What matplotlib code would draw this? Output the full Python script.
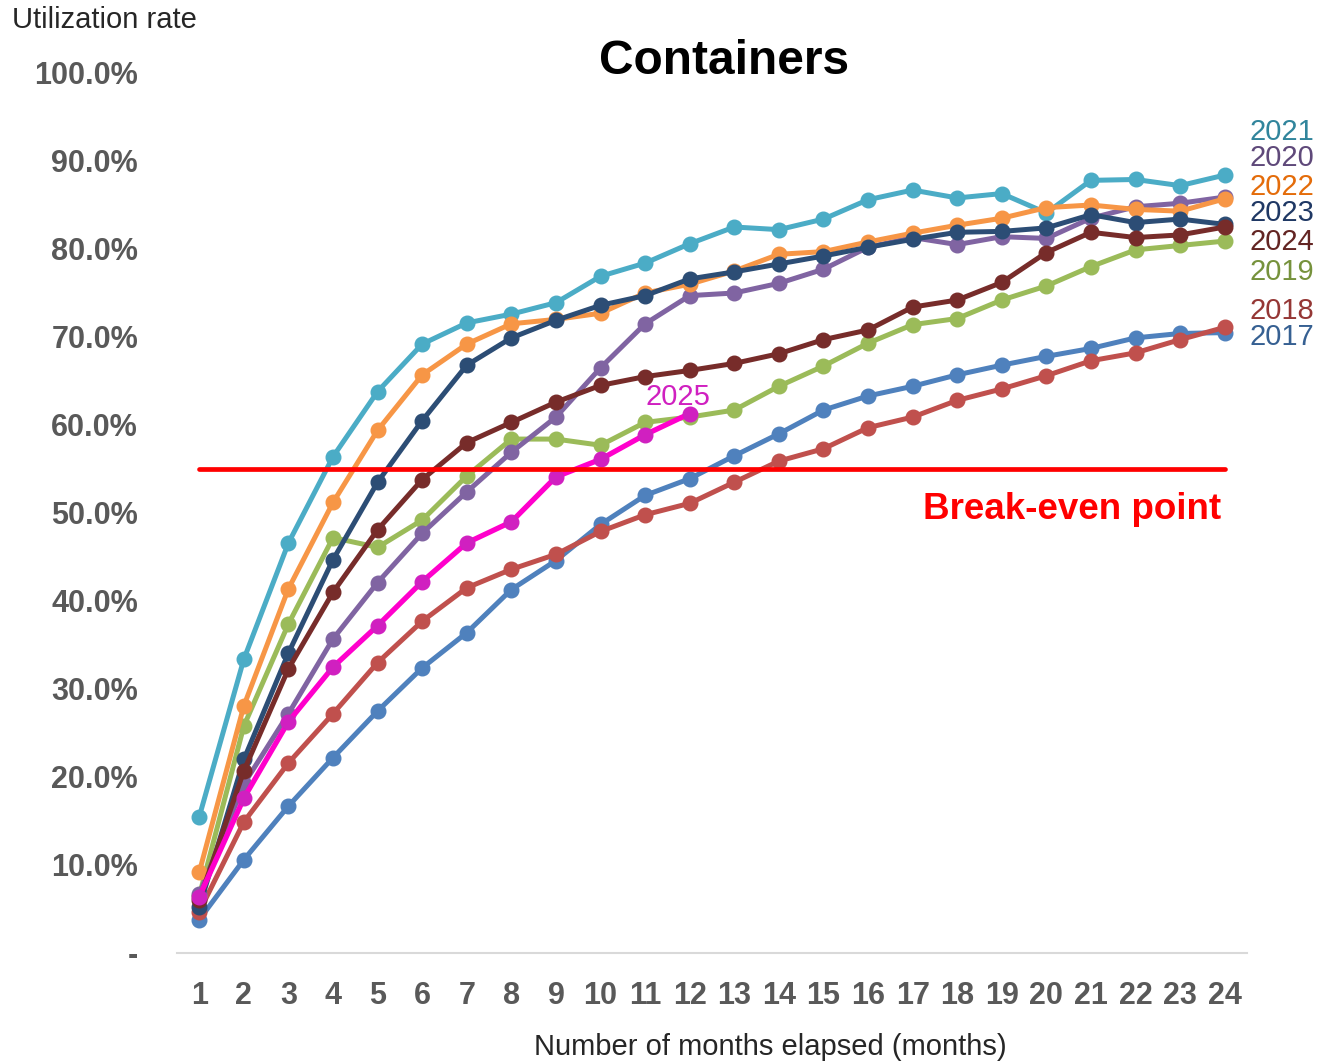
import numpy as np
import matplotlib
matplotlib.use("Agg")
import matplotlib.pyplot as plt

plt.rcParams['font.family'] = ['Liberation Sans', 'DejaVu Sans']

# months elapsed
months = list(range(1, 25))

# utilization rate (%) per launch year
rate_2017 = [3.8, 10.6, 16.7, 22.2, 27.5, 32.4, 36.4, 41.3, 44.6, 48.7, 52.0, 53.9,
             56.5, 59.0, 61.7, 63.3, 64.4, 65.7, 66.8, 67.8, 68.7, 69.9, 70.4, 70.5]
rate_2018 = [4.7, 14.9, 21.6, 27.2, 33.0, 37.7, 41.5, 43.6, 45.3, 47.9, 49.8, 51.1,
             53.5, 55.9, 57.3, 59.7, 60.9, 62.8, 64.1, 65.6, 67.3, 68.2, 69.7, 71.1]
rate_2019 = [6.5, 25.8, 37.4, 47.2, 46.1, 49.2, 54.2, 58.4, 58.4, 57.7, 60.3, 60.9,
             61.7, 64.4, 66.7, 69.3, 71.4, 72.1, 74.2, 75.8, 78.0, 79.9, 80.4, 80.9]
rate_2020 = [6.7, 19.2, 27.2, 35.7, 42.1, 47.7, 52.4, 56.9, 60.9, 66.5, 71.5, 74.7,
             75.0, 76.1, 77.7, 80.2, 81.3, 80.5, 81.4, 81.2, 83.5, 84.8, 85.2, 85.9]
rate_2021 = [15.5, 33.4, 46.6, 56.4, 63.8, 69.2, 71.6, 72.6, 73.9, 76.9, 78.4, 80.6,
             82.5, 82.2, 83.4, 85.6, 86.7, 85.8, 86.3, 84.1, 87.8, 87.9, 87.2, 88.4]
rate_2022 = [9.2, 28.1, 41.4, 51.2, 59.4, 65.7, 69.2, 71.5, 72.0, 72.7, 75.0, 76.0,
             77.5, 79.4, 79.7, 80.8, 81.8, 82.7, 83.5, 84.7, 85.0, 84.5, 84.3, 85.7]
rate_2023 = [5.2, 22.0, 34.1, 44.7, 53.5, 60.5, 66.8, 69.9, 71.9, 73.6, 74.7, 76.6,
             77.4, 78.3, 79.2, 80.2, 81.1, 81.9, 82.0, 82.4, 83.9, 83.0, 83.4, 82.8]
rate_2024 = [6.0, 20.7, 32.3, 41.0, 48.1, 53.8, 58.0, 60.3, 62.6, 64.5, 65.5, 66.2,
             67.0, 68.1, 69.7, 70.8, 73.4, 74.2, 76.2, 79.6, 81.9, 81.3, 81.6, 82.5]
rate_2025 = [6.4, 17.6, 26.3, 32.5, 37.2, 42.2, 46.6, 49.0, 54.1, 56.1, 58.9, 61.3]

break_even = 55.0

series = [
    ("2017", rate_2017, "#4F81BD", "#366092"),
    ("2018", rate_2018, "#C0504D", "#953735"),
    ("2019", rate_2019, "#9BBB59", "#76923C"),
    ("2020", rate_2020, "#8064A2", "#5F497A"),
    ("2021", rate_2021, "#4BACC6", "#31859C"),
    ("2022", rate_2022, "#F79646", "#E46C0A"),
    ("2023", rate_2023, "#2C4D75", "#1F3864"),
    ("2024", rate_2024, "#772C2A", "#632523"),
]

# where each year label sits on the right (y in data units)
label_y = {"2021": 93.3, "2020": 90.3, "2022": 87.1, "2023": 84.1,
           "2024": 80.8, "2019": 77.4, "2018": 72.9, "2017": 70.0}

fig = plt.figure(figsize=(13.19, 10.61), dpi=100)
ax = fig.add_axes([177 / 1319, 1 - 953 / 1061, 1070 / 1319, 880 / 1061])

for name, vals, col, txtcol in series:
    ax.plot(months[:len(vals)], vals, color=col, lw=3.6, marker='o', ms=10.5,
            solid_capstyle='round', zorder=3)

ax.plot(months[:len(rate_2025)], rate_2025, color="#FF00CC", lw=3.8, marker='o',
        ms=10.5, mfc="#D020C0", mec="#D020C0", zorder=4)
ax.text(11.73, 63.2, "2025", color="#D020C0", fontsize=21, ha='center', va='center')

# break-even line
ax.plot([months[0], months[-1]], [break_even, break_even], color="#FF0000",
        lw=3.4, solid_capstyle='round', zorder=5)
ax.text(23.93, 50.4, "Break-even point", color="#FF0000",
        fontsize=26.5, fontweight='bold', ha='right', va='center')

for name, vals, col, txtcol in series:
    ax.text(24.55, label_y[name], name, color=txtcol, fontsize=21,
            ha='left', va='center', clip_on=False)

ax.set_xlim(0.5, 24.5)
ax.set_ylim(0, 100)
ax.set_xticks(months)
ax.set_xticklabels([str(m) for m in months])
ax.set_yticks(np.arange(0, 101, 10))
ax.set_yticklabels(['-'] + [f"{v:.1f}%" for v in range(10, 101, 10)])
ax.tick_params(axis='both', length=0, labelsize=22, labelcolor="#595959")
ax.tick_params(axis='x', pad=20)
ax.tick_params(axis='y', pad=28)
for lab in ax.get_xticklabels() + ax.get_yticklabels():
    lab.set_fontweight('bold')

for side in ['top', 'right', 'left']:
    ax.spines[side].set_visible(False)
ax.spines['bottom'].set_color("#D9D9D9")
ax.spines['bottom'].set_linewidth(1.5)

fig.text(724 / 1319, 1 - 61 / 1061, "Containers", fontsize=34.5, fontweight='bold',
         ha='center', va='center', color='black')
fig.text(12 / 1319, 1 - 20 / 1061, "Utilization rate", fontsize=21,
         ha='left', va='center', color="#262626")
fig.text(770 / 1319, 1 - 1047 / 1061, "Number of months elapsed (months)",
         fontsize=21, ha='center', va='center', color="#262626")

fig.savefig("out.png", dpi=100)
